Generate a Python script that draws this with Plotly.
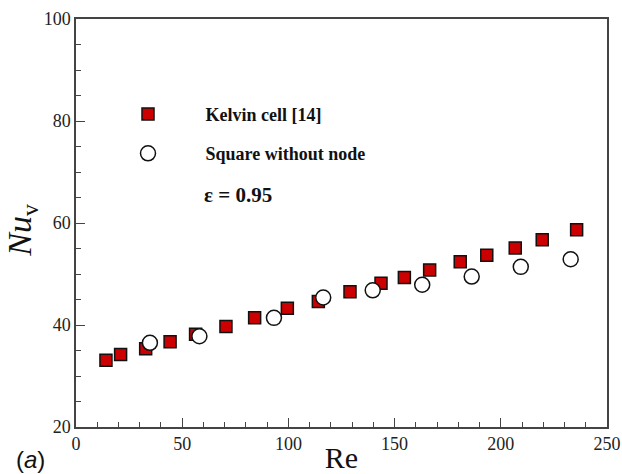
import plotly.graph_objects as go

kelvin_re = [14.1, 21.0, 32.8, 44.3, 56.3, 70.6, 84.1, 99.5, 114.1, 129.0, 143.6, 154.6, 166.5, 180.9, 193.4, 206.8, 219.5, 235.7]
kelvin_nu = [33.1, 34.2, 35.35, 36.7, 38.2, 39.7, 41.4, 43.3, 44.6, 46.5, 48.2, 49.3, 50.8, 52.4, 53.7, 55.1, 56.7, 58.7]
square_re = [34.8, 58.1, 93.2, 116.4, 139.7, 163.0, 186.3, 209.4, 232.9]
square_nu = [36.5, 37.8, 41.4, 45.4, 46.8, 47.9, 49.5, 51.4, 52.9]

SERIF = "Liberation Serif, Times New Roman, serif"

fig = go.Figure()
fig.add_trace(go.Scatter(
    x=kelvin_re, y=kelvin_nu, mode="markers", name="<b>Kelvin cell [14]</b>",
    legendgroup="a",
    marker=dict(symbol="square", size=12, color="#CC0000", line=dict(color="#111", width=1.5)),
))
fig.add_trace(go.Scatter(
    x=square_re, y=square_nu, mode="markers", name="<b>Square without node</b>",
    legendgroup="b",
    marker=dict(symbol="circle", size=15, color="white", line=dict(color="#111", width=1.5)),
))

axis_common = dict(
    showgrid=False, zeroline=False, showline=True, linecolor="#444", linewidth=1.5,
    mirror=True, ticks="inside", ticklen=9, tickwidth=1, tickcolor="#444",
    tickfont=dict(family=SERIF, size=18, color="#222"), automargin=False,
    minor=dict(ticks="inside", ticklen=5, tickwidth=1, tickcolor="#444"),
)

fig.update_xaxes(range=[0, 250], dtick=50, minor_dtick=10,
                 title=dict(text="Re", font=dict(family=SERIF, size=30, color="#111"), standoff=2),
                 **axis_common)
fig.update_yaxes(range=[20, 100], dtick=20, minor_dtick=5, **axis_common)

fig.add_annotation(text="<i>Nu</i><sub>v</sub>", xref="paper", yref="paper",
                   x=(22-76)/531, y=(427.3-231)/408, textangle=-90,
                   xanchor="center", yanchor="middle", showarrow=False,
                   font=dict(family=SERIF, size=34, color="#111"))
fig.add_annotation(text="<b>ε = 0.95</b>", xref="paper", yref="paper", x=(202-76)/531, y=(427.3-195)/408,
                   xanchor="left", yanchor="middle", showarrow=False,
                   font=dict(family=SERIF, size=21, color="#111"))
fig.add_annotation(text="(<i>a</i>)", xref="paper", yref="paper", x=(14-76)/531, y=(427.3-460)/408,
                   xanchor="left", yanchor="middle", showarrow=False,
                   font=dict(family="Liberation Sans, Arial, sans-serif", size=24, color="#111"))

fig.update_layout(
    width=622, height=474,
    margin=dict(l=76, r=15, t=19, b=47),
    paper_bgcolor="white", plot_bgcolor="white",
    legend=dict(x=(90.5-76)/531, y=(427.3-96)/408, xanchor="left", yanchor="top",
                bgcolor="rgba(0,0,0,0)", itemwidth=105, tracegroupgap=13,
                font=dict(family=SERIF, size=18, color="#111")),
)

fig.write_html("out.html", config={"displayModeBar": False},
               post_script="document.documentElement.style.margin='0';document.body.style.margin='0';"
                           "document.body.style.overflow='hidden';document.documentElement.style.overflow='hidden';")
